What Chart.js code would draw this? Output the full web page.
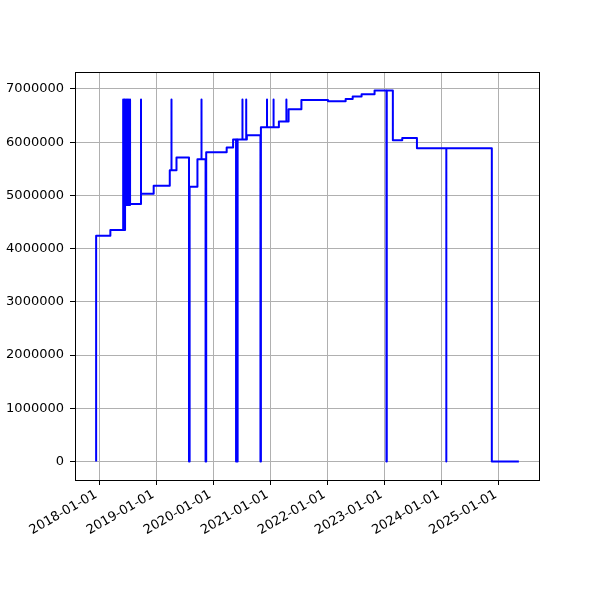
<!DOCTYPE html>
<html lang="en">
<head>
  <meta charset="UTF-8">
  <title>Value over time</title>
  <script src="https://cdn.jsdelivr.net/npm/chart.js"></script>
  <style>
    body {
      margin: 0;
      padding: 0;
      background: #fff;
    }
    .chart-container {
      width: 600px;
      height: 600px;
    }
  </style>
</head>
<body>
  <div class="chart-container">
    <canvas id="stepChart" width="600" height="600"></canvas>
  </div>

  <script>
    // dates of each change (value holds until the next date)
    const dates = [
      '2017-12-13', '2017-12-13', '2018-03-14',
      '2018-06-04', '2018-06-04', '2018-06-11', '2018-06-11', '2018-06-16', '2018-06-16',
      '2018-06-24', '2018-06-24', '2018-07-02', '2018-07-02', '2018-07-10', '2018-07-10',
      '2018-07-18', '2018-07-18', '2018-09-26', '2018-09-26', '2018-12-16',
      '2019-03-29', '2019-04-09', '2019-04-09', '2019-05-11', '2019-07-30', '2019-08-03',
      '2019-09-22', '2019-10-18', '2019-10-18', '2019-11-13', '2019-11-17',
      '2020-03-27', '2020-05-07', '2020-05-26', '2020-05-27', '2020-06-03', '2020-06-05',
      '2020-07-06', '2020-07-06', '2020-07-30', '2020-07-30', '2020-08-03',
      '2020-10-29', '2020-11-01', '2020-12-10', '2020-12-10', '2021-01-21', '2021-01-21',
      '2021-02-24', '2021-04-13', '2021-04-13', '2021-04-27', '2021-07-18',
      '2022-01-04', '2022-04-27', '2022-06-11', '2022-08-07', '2022-10-29',
      '2023-01-13', '2023-01-15', '2023-02-23', '2023-04-24', '2023-07-27',
      '2024-01-31', '2024-01-31', '2024-11-17', '2025-05-09'
    ];
    const values = [
      0, 4240000, 4350000,
      6800000, 4350000, 6800000, 4350000, 6800000, 4820000,
      6800000, 4820000, 6800000, 4820000, 6800000, 4820000,
      6800000, 4840000, 6800000, 5030000, 5180000,
      5470000, 6800000, 5470000, 5710000, 0, 5160000,
      5680000, 6800000, 5680000, 0, 5810000,
      5900000, 6050000, 0, 6050000, 0, 6050000,
      6800000, 6050000, 6800000, 6050000, 6130000,
      0, 6280000, 6800000, 6280000, 6800000, 6280000,
      6390000, 6800000, 6390000, 6620000, 6790000,
      6770000, 6810000, 6860000, 6900000, 6970000,
      0, 6970000, 6035000, 6080000, 5885000,
      0, 5885000, 0, 0
    ];
    const yearTicks = ['2018-01-01', '2019-01-01', '2020-01-01', '2021-01-01',
                       '2022-01-01', '2023-01-01', '2024-01-01', '2025-01-01'];
    const valueTicks = [0, 1000000, 2000000, 3000000, 4000000, 5000000, 6000000, 7000000];

    const points = dates.map((d, i) => ({ x: Date.parse(d), y: values[i] }));

    // 5% margins like the original
    const xs = points.map(p => p.x);
    const xLo = Math.min(...xs), xHi = Math.max(...xs);
    const yLo = Math.min(...values), yHi = Math.max(...values);
    const xPad = (xHi - xLo) * 0.05, yPad = (yHi - yLo) * 0.05;

    function fmtDate(ms) {
      const d = new Date(ms);
      const mm = String(d.getUTCMonth() + 1).padStart(2, '0');
      const dd = String(d.getUTCDate()).padStart(2, '0');
      return d.getUTCFullYear() + '-' + mm + '-' + dd;
    }

    // box round the plot area
    const frame = {
      id: 'frame',
      afterDatasetsDraw(chart) {
        const a = chart.chartArea;
        const ctx = chart.ctx;
        ctx.save();
        ctx.strokeStyle = '#000';
        ctx.lineWidth = 1;
        ctx.strokeRect(Math.round(a.left) + 0.5, Math.round(a.top) + 0.5,
                       Math.round(a.right - a.left) - 1, Math.round(a.bottom - a.top));
        ctx.restore();
      }
    };

    Chart.defaults.font.family = "'DejaVu Sans', sans-serif";
    Chart.defaults.font.size = 13;
    Chart.defaults.color = '#000';

    const ctx = document.getElementById('stepChart').getContext('2d');
    new Chart(ctx, {
      type: 'line',
      data: {
        datasets: [{
          data: points,
          borderColor: '#0000ff',
          borderWidth: 2,
          borderJoinStyle: 'round',
          stepped: 'before',
          pointRadius: 0,
          tension: 0,
          fill: false
        }]
      },
      options: {
        responsive: false,
        animation: false,
        devicePixelRatio: 1,
        layout: { padding: { left: 0, right: 60, top: 72, bottom: 0 } },
        plugins: {
          legend: { display: false },
          tooltip: { enabled: false }
        },
        scales: {
          x: {
            type: 'linear',
            min: xLo - xPad,
            max: xHi + xPad,
            afterBuildTicks: s => { s.ticks = yearTicks.map(t => ({ value: Date.parse(t) })); },
            afterFit: s => { s.height = 120; },
            grid: { color: '#b0b0b0', lineWidth: 1, tickColor: '#000', tickLength: 5 },
            border: { display: false },
            ticks: {
              autoSkip: false,
              minRotation: 30,
              maxRotation: 30,
              padding: 2,
              labelOffset: -3,
              callback: v => fmtDate(v)
            }
          },
          y: {
            min: yLo - yPad,
            max: yHi + yPad,
            afterBuildTicks: s => { s.ticks = valueTicks.map(v => ({ value: v })); },
            afterFit: s => { s.width = 75; },
            grid: { color: '#b0b0b0', lineWidth: 1, tickColor: '#000', tickLength: 5 },
            border: { display: false },
            ticks: {
              padding: 6,
              callback: v => String(v)
            }
          }
        }
      },
      plugins: [frame]
    });
  </script>
</body>
</html>
